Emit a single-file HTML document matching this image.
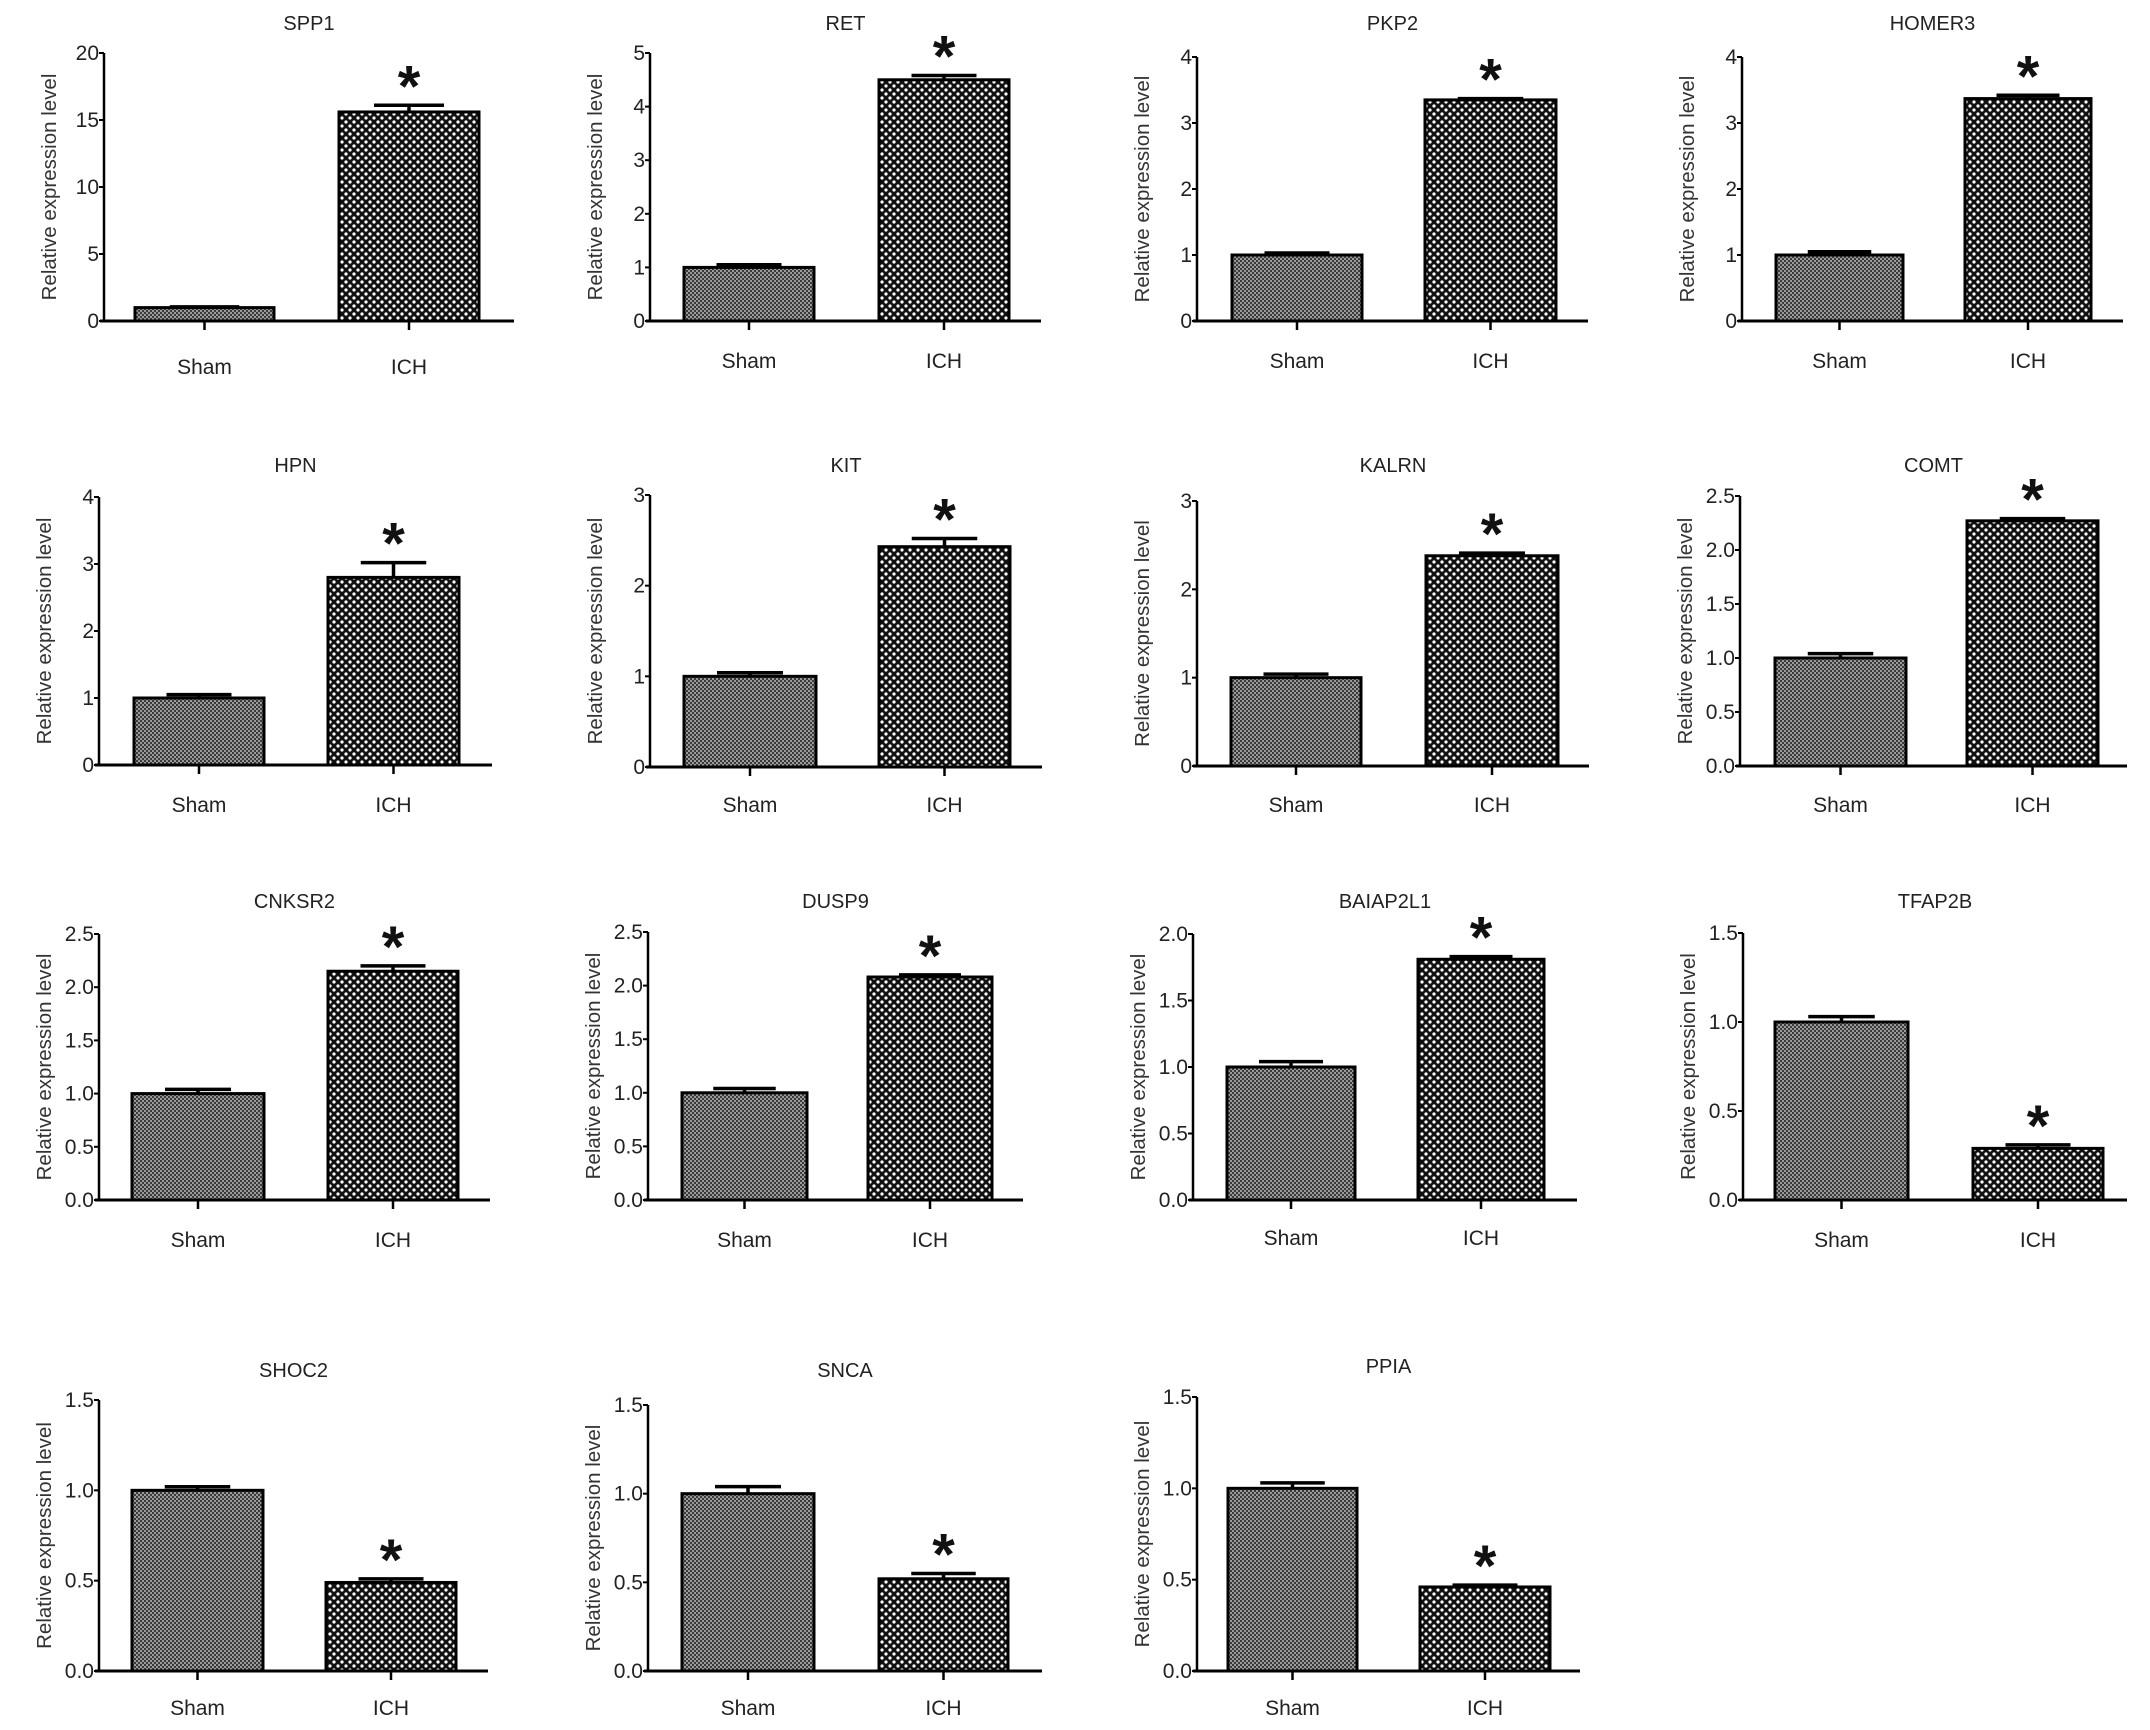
<!DOCTYPE html>
<html><head><meta charset="utf-8"><style>
html,body{margin:0;padding:0;background:#fff;}
svg{display:block;font-family:"Liberation Sans",sans-serif;}
</style></head><body>
<svg id="fig" width="2150" height="1730" viewBox="0 0 2150 1730" xmlns="http://www.w3.org/2000/svg">
<defs>
<pattern id="pSham" width="4" height="4" patternUnits="userSpaceOnUse">
<rect width="4" height="4" fill="#9a9a9a"/><rect width="2" height="2" fill="#3a3a3a"/><rect x="2" y="2" width="2" height="2" fill="#3a3a3a"/>
</pattern>
<pattern id="pIch" width="8" height="8" patternUnits="userSpaceOnUse">
<rect width="8" height="8" fill="#111"/><circle cx="2" cy="2" r="1.6" fill="#fff"/><circle cx="6" cy="6" r="1.6" fill="#fff"/>
</pattern>
</defs>
</svg>
<script>
const genes=["SPP1","RET","PKP2","HOMER3","HPN","KIT","KALRN","COMT","CNKSR2","DUSP9","BAIAP2L1","TFAP2B","SHOC2","SNCA","PPIA"];
const categories=["Sham","ICH"];
const shamVals=[1.0,1.0,1.0,1.0,1.0,1.0,1.0,1.0,1.0,1.0,1.0,1.0,1.0,1.0,1.0];
const shamErr=[0.05,0.05,0.03,0.05,0.05,0.04,0.04,0.04,0.04,0.04,0.04,0.03,0.02,0.04,0.03];
const ichVals=[15.6,4.5,3.35,3.37,2.8,2.43,2.38,2.27,2.15,2.08,1.81,0.29,0.49,0.52,0.46];
const ichErr=[0.5,0.08,0.02,0.05,0.22,0.09,0.03,0.02,0.05,0.02,0.02,0.02,0.02,0.03,0.01];
const yMaxs=[20,5,4,4,4,3,3,2.5,2.5,2.5,2.0,1.5,1.5,1.5,1.5];
const ySteps=[5,1,1,1,1,1,1,0.5,0.5,0.5,0.5,0.5,0.5,0.5,0.5];
const yDecimals=[0,0,0,0,0,0,0,1,1,1,1,1,1,1,1];

// layout geometry: [axisX, topY, zeroY, shamX0, shamX1, ichX0, ichX1, axisEnd, titleY, labelY]
const layout=[
[104,53,321,135,274,339,479,514,30,374],
[650,53,321,684,814,879,1009,1041,30,368],
[1197,57,321,1232,1362,1425,1556,1588,30,368],
[1742,57,321,1776,1903,1965,2091,2123,30,368],
[99,497,765,134,264,328,459,492,472,812],
[650,495,767,684,816,879,1010,1042,472,812],
[1197,501,766,1231,1361,1426,1558,1589,472,812],
[1740,496,766,1775,1906,1967,2098,2127,472,812],
[99,934,1200,132,264,328,458,490,908,1247],
[648,932,1200,682,807,868,992,1023,908,1247],
[1193,934,1200,1227,1355,1418,1544,1577,908,1245],
[1743,933,1200,1775,1908,1973,2103,2127,908,1247],
[99,1400,1671,132,263,326,456,488,1377,1715],
[648,1405,1671,682,814,879,1008,1042,1377,1715],
[1197,1397,1671,1228,1357,1420,1550,1580,1373,1715]
];
const NS="http://www.w3.org/2000/svg";
const svg=document.getElementById("fig");
function mk(tag,attrs,parent){const e=document.createElementNS(NS,tag);for(const k in attrs)e.setAttribute(k,attrs[k]);(parent||svg).appendChild(e);return e;}

genes.forEach(function(g,i){
  const L=layout[i];
  const ax=L[0],top=L[1],zero=L[2],end=L[7];
  const yMax=yMaxs[i];
  const yScale=function(v){return zero-(v/yMax)*(zero-top);};
  const grp=mk("g",{});
  
  
  const t=mk("text",{x:(ax+end)/2,y:L[8],"font-size":20,"text-anchor":"middle",fill:"#222"},grp);
  t.textContent=g;
  
  
  const cy=(top+zero)/2;
  const lx=ax-48;
  const yl=mk("text",{x:lx,y:cy,"font-size":20.5,"text-anchor":"middle",fill:"#333",transform:"rotate(-90 "+lx+" "+cy+")"},grp);
  yl.textContent="Relative expression level";
  
  
  const xs=[[L[3],L[4]],[L[5],L[6]]];
  const vals=[shamVals[i],ichVals[i]];
  const errs=[shamErr[i],ichErr[i]];
  const fills=["url(#pSham)","url(#pIch)"];
  for(let k=0;k<2;k++){
    const x0=xs[k][0],x1=xs[k][1];
    const yv=yScale(vals[k]);
    const ye=yScale(vals[k]+errs[k]);
    const cx=(x0+x1)/2,hw=(x1-x0)/4;
    const eb=mk("path",{d:"M"+cx+" "+yv+"V"+ye+"M"+(cx-hw)+" "+ye+"H"+(cx+hw),stroke:"#000","stroke-width":3.5,fill:"none"},grp);
    
    
    const b=mk("rect",{x:x0,y:yv,width:x1-x0,height:zero-yv,fill:fills[k],stroke:"#000","stroke-width":3},grp);
    
    
    const tk=mk("line",{x1:cx,x2:cx,y1:zero,y2:zero+9,stroke:"#000","stroke-width":2.5},grp);
    
    
    const lb=mk("text",{x:cx,y:L[9],"font-size":21,"text-anchor":"middle",fill:"#222"},grp);
    lb.textContent=categories[k];
    
    
  }
  const icx=(L[5]+L[6])/2;
  const st=mk("text",{x:icx,y:yScale(ichVals[i]+ichErr[i])+1,"font-size":58,"font-weight":"bold","text-anchor":"middle",fill:"#111"},grp);
  st.textContent="*";
  
  
  const yaxis=mk("line",{x1:ax,x2:ax,y1:top,y2:zero,stroke:"#000","stroke-width":2.5},grp);
  
  
  const xaxis=mk("line",{x1:ax-4,x2:end,y1:zero,y2:zero,stroke:"#000","stroke-width":3},grp);
  
  
  const n=Math.round(yMax/ySteps[i]);
  for(let j=0;j<=n;j++){
    const v=j*ySteps[i];
    const y=yScale(v);
    const tl=mk("line",{x1:ax-5,x2:ax,y1:y,y2:y,stroke:"#000","stroke-width":2},grp);
    
    
    const tt=mk("text",{x:ax-5,y:y+7,"font-size":21,"text-anchor":"end",fill:"#222"},grp);
    tt.textContent=v.toFixed(yDecimals[i]);
    
    
  }
});
</script>
</body></html>
